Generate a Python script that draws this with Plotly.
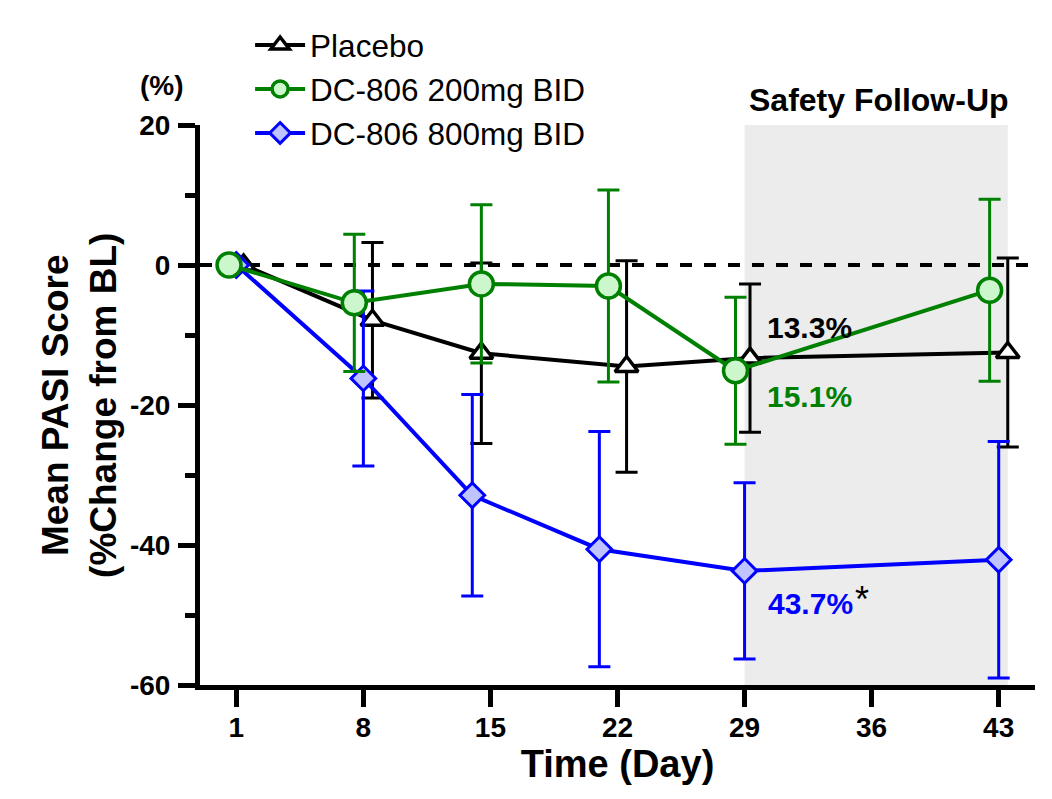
import plotly.graph_objects as go

# ---- data ----
tick_days = [1, 8, 15, 22, 29, 36, 43]
y_ticks = [20, 0, -20, -40, -60]

placebo_x = [1.4, 8.5, 14.5, 22.5, 29.3, 43.5]
placebo_y = [0, -7.9, -12.6, -14.5, -13.3, -12.5]
placebo_err = [0, 11.1, 12.9, 15.1, 10.6, 13.5]

d200_x = [0.6, 7.5, 14.5, 21.5, 28.5, 42.5]
d200_y = [0, -5.4, -2.7, -3.0, -15.1, -3.6]
d200_err = [0, 9.8, 11.3, 13.7, 10.5, 13.0]

d800_x = [1.0, 8.0, 14.0, 21.0, 29.0, 43.0]
d800_y = [0, -16.2, -32.9, -40.6, -43.7, -42.1]
d800_err = [0, 12.5, 14.4, 16.8, 12.6, 16.9]

follow_up = [29, 43.5]

FONT = "Arial, Liberation Sans, sans-serif"
GREEN = "#008000"
BLUE = "#0000ff"

fig = go.Figure()

fig.add_trace(go.Scatter(
    x=placebo_x, y=placebo_y, name="Placebo", mode="lines+markers",
    line=dict(color="black", width=4),
    marker=dict(symbol="triangle-up", size=20, color="white",
                line=dict(color="black", width=3.5)),
    error_y=dict(type="data", array=placebo_err, color="black", thickness=3, width=11),
    legendrank=1, cliponaxis=False))

fig.add_trace(go.Scatter(
    x=d800_x, y=d800_y, name="DC-806 800mg BID", mode="lines+markers",
    line=dict(color=BLUE, width=4),
    marker=dict(symbol="diamond", size=19, color="#bfc3ff",
                line=dict(color=BLUE, width=3)),
    error_y=dict(type="data", array=d800_err, color=BLUE, thickness=3, width=11),
    legendrank=3, cliponaxis=False))

fig.add_trace(go.Scatter(
    x=d200_x, y=d200_y, name="DC-806 200mg BID", mode="lines+markers",
    line=dict(color=GREEN, width=4),
    marker=dict(symbol="circle", size=24, color="#ccf7cc",
                line=dict(color=GREEN, width=3.5)),
    error_y=dict(type="data", array=d200_err, color=GREEN, thickness=3, width=11),
    legendrank=2, cliponaxis=False))

# shaded follow-up region
fig.add_shape(type="rect", xref="x", yref="y", x0=follow_up[0], x1=follow_up[1],
              y0=-60, y1=20, fillcolor="#ececec", line=dict(width=0), layer="below")
# zero dashed line
fig.add_shape(type="line", xref="x", yref="y", x0=-1, x1=45, y0=0, y1=0,
              line=dict(color="black", width=4, dash="dash"), layer="below")

annots = [
    dict(x=30.1, y=-8.9, xref="x", yref="y", text="<b>13.3%</b>", xanchor="left",
         font=dict(size=30, color="black")),
    dict(x=30.1, y=-18.8, xref="x", yref="y", text="<b>15.1%</b>", xanchor="left",
         font=dict(size=30, color=GREEN)),
    dict(x=30.2, y=-48.3, xref="x", yref="y", text="<b>43.7%</b>", xanchor="left",
         font=dict(size=30, color=BLUE)),
    dict(x=34.95, y=-44.6, xref="x", yref="y", text="*", xanchor="left", yanchor="top",
         font=dict(size=36, color="black")),
    dict(x=36.4, y=1.045, xref="x", yref="paper", text="<b>Safety Follow-Up</b>",
         xanchor="center", yanchor="middle", font=dict(size=32, color="black")),
    dict(x=-0.045, y=1.07, xref="paper", yref="paper", text="<b>(%)</b>",
         xanchor="center", yanchor="middle", font=dict(size=28, color="black")),
    dict(x=-0.145, y=0.5, xref="paper", yref="paper", xanchor="center", yanchor="middle",
         text="<b>Mean PASI Score<br>(%Change from BL)</b>", textangle=-90,
         font=dict(size=37, color="black")),
]
for a in annots:
    a.setdefault("showarrow", False)
    a["font"]["family"] = FONT
    fig.add_annotation(**a)

fig.update_layout(
    width=1052, height=799,
    margin=dict(l=192, r=25, t=117, b=122, autoexpand=False),
    plot_bgcolor="white", paper_bgcolor="white",
    font=dict(family=FONT, color="black"),
    showlegend=True,
    legend=dict(x=0.06, y=1.191, xanchor="left", yanchor="top",
                font=dict(size=31.5, family=FONT), bgcolor="rgba(0,0,0,0)",
                itemsizing="trace", itemwidth=50),
    xaxis=dict(range=[-1, 45], tickvals=tick_days, ticktext=["<b>%d</b>" % t for t in tick_days],
               showgrid=False, zeroline=False, showline=True, linewidth=5, linecolor="black",
               ticks="outside", ticklen=17, tickwidth=5, tickcolor="black",
               tickfont=dict(size=28, family=FONT), ticklabelstandoff=-4,
               title=dict(text="<b>Time (Day)</b>", font=dict(size=38, family=FONT), standoff=6)),
    yaxis=dict(range=[-60, 20], tickvals=y_ticks, ticktext=["<b>%d</b>" % v for v in y_ticks],
               showgrid=False, zeroline=False, showline=True, linewidth=5, linecolor="black",
               ticks="outside", ticklen=17, tickwidth=5, tickcolor="black",
               tickfont=dict(size=28, family=FONT), ticklabelstandoff=2,
               minor=dict(dtick=10, tick0=0, ticks="outside", ticklen=10, tickwidth=5,
                          tickcolor="black")),
)

fig.write_html("out.html")
